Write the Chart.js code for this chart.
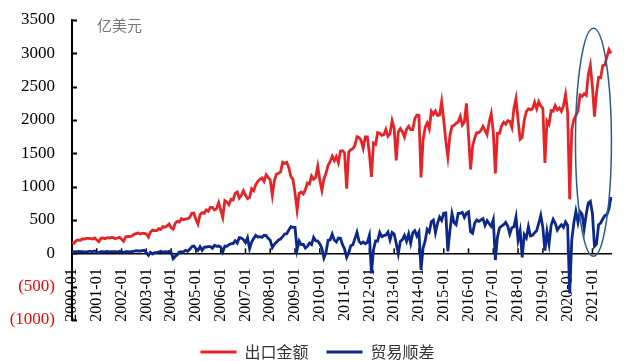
<!DOCTYPE html>
<html>
<head>
<meta charset="utf-8">
<script src="https://cdn.jsdelivr.net/npm/chart.js@4/dist/chart.umd.min.js"></script>
<style>
  html, body { margin: 0; padding: 0; background: #fff; }
  #wrap { width: 631px; height: 361px; position: relative; }
</style>
</head>
<body>
<div id="wrap"><canvas id="c"></canvas></div>
<script>
// monthly labels 2000-01 .. 2021-10
const firstYear = 2000, lastYear = 2021, lastMonth = 10;
const months = [];
for (let y = firstYear; y <= lastYear; y++) {
  for (let m = 1; m <= 12; m++) {
    if (y === lastYear && m > lastMonth) break;
    months.push(y + '-' + String(m).padStart(2, '0'));
  }
}

// 出口金额 (亿美元), one row per year
const exportVals = [
  165,150,190,200,195,215,215,225,225,220,215,230,
  200,175,225,230,220,235,230,240,235,220,230,240,
  210,180,250,255,250,260,285,295,305,290,300,300,
  290,245,320,350,340,340,370,360,400,390,410,440,
  385,365,450,480,470,520,505,515,520,540,600,605,
  508,440,580,610,600,650,630,690,690,650,670,760,
  650,540,790,770,730,810,800,900,920,830,870,940,
  870,820,840,970,940,1030,1080,1110,1130,1080,1180,1140,
  1100,870,1090,1190,1200,1220,1365,1350,1365,1285,1150,1110,
  905,650,900,920,890,955,1055,1040,1160,1110,1140,1305,
  1095,945,1120,1200,1320,1375,1455,1390,1450,1360,1535,1540,
  1505,970,1520,1555,1570,1620,1750,1735,1695,1575,1745,1745,
  1500,1145,1655,1635,1810,1800,1770,1780,1860,1755,1795,1990,
  1875,1395,1820,1870,1825,1745,1860,1905,1855,1855,2020,2075,
  2070,1140,1700,1890,1955,1865,2130,2085,2135,2070,2075,2275,
  2000,1690,1445,1765,1905,1920,1950,1970,2055,1925,1970,2250,
  1770,1260,1610,1730,1810,1810,1845,1905,1845,1780,1970,2095,
  1825,1200,1800,1800,1910,1965,1935,1990,1980,1890,2175,2320,
  2000,1710,1740,2000,2125,2165,2155,2170,2265,2170,2275,2210,
  2175,1355,1985,1935,2140,2130,2215,2150,2180,2130,2215,2380,
  2115,810,1850,2005,2070,2135,2375,2355,2395,2370,2680,2820,
  2500,2050,2410,2640,2635,2815,2825,2945,3055,3000
];

// 贸易顺差 (亿美元)
const balanceVals = [
  15,25,20,30,25,25,20,20,30,30,25,35,
  20,5,25,25,20,30,20,25,25,25,20,30,
  20,15,25,25,20,30,30,40,35,35,40,45,
  10,-30,15,-10,10,10,20,30,15,25,20,30,
  15,-80,-45,-20,20,20,25,45,30,60,100,110,
  70,45,100,45,90,95,100,100,75,120,105,110,
  95,20,110,105,130,145,145,190,155,235,230,205,
  160,235,70,170,225,270,245,250,240,270,265,225,
  195,85,135,165,200,215,250,290,295,350,400,390,
  390,50,185,130,135,80,105,155,130,240,190,185,
  140,75,-70,15,195,200,290,200,170,230,225,130,
  65,-60,10,115,130,220,315,180,145,170,145,165,
  270,-300,55,185,185,315,250,265,275,320,200,315,
  290,150,-5,180,205,270,180,290,150,310,340,260,
  320,-250,80,185,360,320,475,500,310,450,545,495,
  600,605,30,340,595,460,430,600,600,615,540,600,
  620,325,300,455,500,480,500,520,420,490,445,405,
  505,-100,240,380,410,430,465,410,290,385,400,545,
  200,340,-60,280,230,400,260,270,310,340,450,570,
  390,40,325,140,420,510,450,350,395,430,390,470,
  420,-600,200,455,630,465,625,590,370,585,755,780,
  600,105,140,430,455,515,565,580,665,845
];

const seriesNames = ['出口金额', '贸易顺差'];
const unitText = '亿美元';
const yMin = -1000, yMax = 3500, yStep = 500;

// highlight ellipse around the latest months (index / value space)
const ringCenterIdx = 252.5, ringCenterVal = 1665;
const ringHalfMonths = 8.7, ringHalfVal = 1710;

const RED = 'rgb(230,36,40)';
const BLUE = 'rgb(12,40,140)';

const extras = {
  id: 'extras',
  afterLayout(chart) {
    // nudge the legend row a little to the right, as in the original
    if (chart.legend) { chart.legend.left += 24; }
  },
  beforeDatasetsDraw(chart) {
    const { ctx, chartArea, scales: { x, y } } = chart;
    const y0 = y.getPixelForValue(0);
    ctx.save();
    ctx.strokeStyle = '#000';
    // inward ticks on the value axis
    ctx.lineWidth = 2;
    y.ticks.forEach(t => {
      const py = Math.round(y.getPixelForValue(t.value)) + 0.5;
      ctx.beginPath();
      ctx.moveTo(chartArea.left, py);
      ctx.lineTo(chartArea.left + 5, py);
      ctx.stroke();
    });
    // inward ticks on the date axis, one per year
    ctx.lineWidth = 1.5;
    months.forEach((m, i) => {
      if (!m.endsWith('-01') || i === 0) return;
      const px = x.getPixelForValue(i);
      ctx.beginPath();
      ctx.moveTo(px, y0);
      ctx.lineTo(px, y0 - 5);
      ctx.stroke();
    });
    // unit
    ctx.fillStyle = '#777';
    ctx.font = '15px "Noto Sans CJK SC"';
    ctx.textBaseline = 'middle';
    ctx.textAlign = 'left';
    ctx.fillText(unitText, chartArea.left + 25, chartArea.top + 5);
    ctx.restore();
  },
  afterDatasetsDraw(chart) {
    const { ctx, scales: { x, y } } = chart;
    const cx = x.getPixelForValue(ringCenterIdx);
    const cy = y.getPixelForValue(ringCenterVal);
    const rx = Math.abs(x.getPixelForValue(ringCenterIdx + ringHalfMonths) - cx);
    const ry = Math.abs(y.getPixelForValue(ringCenterVal + ringHalfVal) - cy);
    ctx.save();
    ctx.strokeStyle = 'rgb(44,90,140)';
    ctx.lineWidth = 1.5;
    ctx.beginPath();
    ctx.ellipse(cx, cy, rx, ry, 0, 0, Math.PI * 2);
    ctx.stroke();
    ctx.restore();
  }
};

new Chart(document.getElementById('c'), {
  type: 'line',
  data: {
    labels: months,
    datasets: [
      { label: seriesNames[0], data: exportVals, borderColor: RED, backgroundColor: RED,
        borderWidth: 2.8, pointRadius: 0, tension: 0, fill: false },
      { label: seriesNames[1], data: balanceVals, borderColor: BLUE, backgroundColor: BLUE,
        borderWidth: 2.8, pointRadius: 0, tension: 0, fill: false }
    ]
  },
  options: {
    responsive: true,
    maintainAspectRatio: false,
    animation: false,
    layout: { padding: { top: 20, right: 20, left: 0, bottom: 0 } },
    scales: {
      x: {
        position: { y: 0 },
        afterFit: s => { s.paddingLeft = 0; s.paddingRight = 0; },
        grid: { display: true, drawOnChartArea: false, drawTicks: false },
        border: { display: true, color: '#000', width: 1.5 },
        ticks: {
          autoSkip: false, minRotation: 90, maxRotation: 90, padding: 15,
          color: '#000', font: { family: 'Liberation Serif', size: 16 },
          callback: (v, i) => months[i].endsWith('-01') ? months[i] : ''
        }
      },
      y: {
        min: yMin, max: yMax,
        afterFit: s => { s.width = 72; s.paddingTop = 0; s.paddingBottom = 0; },
        grid: { display: true, drawOnChartArea: false, drawTicks: false },
        border: { display: true, color: '#000', width: 2 },
        ticks: {
          stepSize: yStep, padding: 17,
          font: { family: 'Liberation Serif', size: 17 },
          color: c => (c.tick && c.tick.value < 0) ? '#FF0000' : '#000',
          callback: v => v < 0 ? '(' + Math.abs(v) + ')' : String(v)
        }
      }
    },
    plugins: {
      legend: {
        position: 'bottom',
        maxHeight: 41,
        title: { display: true, text: '', font: { size: 6, lineHeight: 1 }, padding: 0 },
        labels: {
          usePointStyle: true, pointStyle: 'line', pointStyleWidth: 36,
          padding: 18, color: '#333',
          font: { family: 'Noto Sans CJK SC', size: 16 }
        }
      },
      tooltip: { enabled: false }
    }
  },
  plugins: [extras]
});
</script>
</body>
</html>
